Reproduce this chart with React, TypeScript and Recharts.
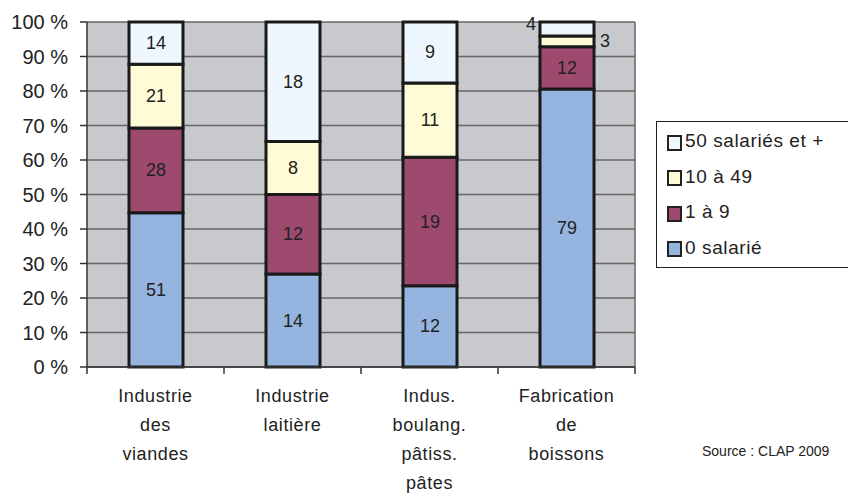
import { BarChart, Bar, XAxis, YAxis, CartesianGrid, LabelList } from 'recharts'

const categories = [
  'Industrie\ndes\nviandes',
  'Industrie\nlaitière',
  'Indus.\nboulang.\npâtiss.\npâtes',
  'Fabrication\nde\nboissons',
]
const zeroSalarie = [51, 14, 12, 79]
const unANeuf = [28, 12, 19, 12]
const dixA49 = [21, 8, 11, 3]
const cinquantePlus = [14, 18, 9, 4]
const yTicks = [0, 0.1, 0.2, 0.3, 0.4, 0.5, 0.6, 0.7, 0.8, 0.9, 1]

const series = [
  { key: 'zero', name: '0 salarié', color: '#95B4DF', values: zeroSalarie },
  { key: 'small', name: '1 à 9', color: '#9E4A6F', values: unANeuf },
  { key: 'medium', name: '10 à 49', color: '#FFFBD6', values: dixA49 },
  { key: 'large', name: '50 salariés et +', color: '#EEF6FE', values: cinquantePlus },
]

const data = categories.map((name, i) => {
  const row: Record<string, string | number> = { name }
  series.forEach(s => (row[s.key] = s.values[i]))
  return row
})

const FONT = '"Liberation Sans", Arial, sans-serif'
const W = 848
const H = 485
const LEFT = 79
const RIGHT = 221
const band = (W - LEFT - RIGHT) / categories.length

function XTick(props: any) {
  const { x, y, payload, index } = props
  const lines = String(payload.value).split('\n')
  return (
    <g>
      <line x1={x - band / 2} y1={y} x2={x - band / 2} y2={y + 7} stroke="#333" strokeWidth={1.5} />
      {index === categories.length - 1 && (
        <line x1={x + band / 2} y1={y} x2={x + band / 2} y2={y + 7} stroke="#333" strokeWidth={1.5} />
      )}
      <text x={x} y={y + 35} textAnchor="middle" fontSize={18} letterSpacing={0.6} fill="#222" fontFamily={FONT}>
        {lines.map((l, i) => (
          <tspan key={i} x={x} dy={i === 0 ? 0 : 29}>
            {l}
          </tspan>
        ))}
      </text>
    </g>
  )
}

const makeLabel = (key: string) => (props: any) => {
  const { x, y, width, height, value } = props
  let tx = x + width / 2
  let ty = y + height / 2
  let anchor: 'middle' | 'start' | 'end' = 'middle'
  if (height < 16 && key === 'medium') {
    tx = x + width + 6
    anchor = 'start'
  } else if (height < 16 && key === 'large') {
    tx = x - 4
    ty = y + 2
    anchor = 'end'
  }
  return (
    <text
      x={tx}
      y={ty}
      textAnchor={anchor}
      dominantBaseline="central"
      fontSize={18}
      fill="#222"
      fontFamily={FONT}
    >
      {value}
    </text>
  )
}

export default function App() {
  return (
    <div style={{ position: 'relative', width: W, height: H, fontFamily: FONT }}>
      <BarChart
        width={W}
        height={H}
        data={data}
        stackOffset="expand"
        margin={{ top: 14, right: RIGHT, bottom: 0, left: 0 }}
        barSize={54}
      >
        <CartesianGrid
          fill="#C8C9CD"
          stroke="#666"
          strokeWidth={1.5}
          verticalCoordinatesGenerator={({ offset }: any) => [offset.left + offset.width]}
        />
        <XAxis
          dataKey="name"
          height={126}
          interval={0}
          tickLine={false}
          tickSize={0}
          tickMargin={0}
          tick={<XTick />}
          axisLine={{ stroke: '#333', strokeWidth: 1.5 }}
        />
        <YAxis
          width={LEFT}
          domain={[0, 1]}
          ticks={yTicks}
          tickFormatter={(v: number) => `${Math.round(v * 100)} %`}
          tickSize={7}
          tickMargin={12}
          tick={{ fontSize: 20, fill: '#222', fontFamily: FONT }}
          axisLine={{ stroke: '#333', strokeWidth: 1.5 }}
          tickLine={{ stroke: '#333', strokeWidth: 1.5 }}
        />
        {series.map(s => (
          <Bar
            key={s.key}
            dataKey={s.key}
            name={s.name}
            stackId="a"
            fill={s.color}
            stroke="#1a1a1a"
            strokeWidth={3}
            isAnimationActive={false}
          >
            <LabelList dataKey={s.key} content={makeLabel(s.key)} />
          </Bar>
        ))}
      </BarChart>

      <div
        style={{
          position: 'absolute',
          left: 648,
          top: 113,
          width: 220,
          height: 147,
          border: '1px solid #222',
          boxSizing: 'border-box',
          background: '#fff',
        }}
      >
        {[...series].reverse().map((s, i) => (
          <div
            key={s.key}
            style={{
              position: 'absolute',
              left: 10,
              top: 8 + i * 35.5,
              display: 'flex',
              alignItems: 'center',
              fontSize: 19,
              letterSpacing: 0.6,
              color: '#222',
              whiteSpace: 'nowrap',
            }}
          >
            <span
              style={{
                display: 'inline-block',
                width: 11,
                height: 12,
                background: s.color,
                border: '2px solid #222',
                marginRight: 3,
                marginTop: 3,
              }}
            />
            {s.name}
          </div>
        ))}
      </div>

      <div style={{ position: 'absolute', left: 694, top: 435, fontSize: 14, color: '#222' }}>
        Source : CLAP 2009
      </div>
    </div>
  )
}
